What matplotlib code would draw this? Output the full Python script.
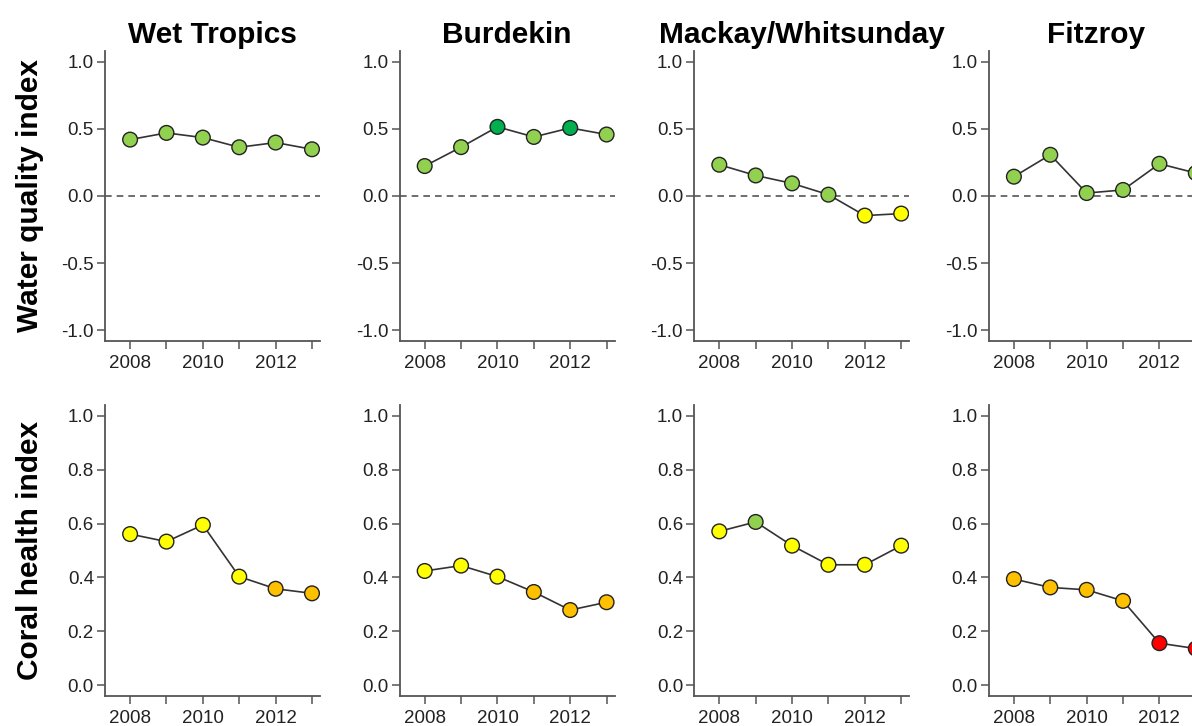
import numpy as np
import matplotlib
matplotlib.use("Agg")
import matplotlib.pyplot as plt

plt.rcParams['font.family'] = ['Liberation Sans', 'DejaVu Sans']

years = [2008, 2009, 2010, 2011, 2012, 2013]
regions = ["Wet Tropics", "Burdekin", "Mackay/Whitsunday", "Fitzroy"]

# water quality index per region
wq_wet = [0.42, 0.47, 0.435, 0.363, 0.398, 0.348]
wq_burdekin = [0.223, 0.364, 0.515, 0.44, 0.507, 0.458]
wq_mackay = [0.233, 0.153, 0.094, 0.01, -0.146, -0.131]
wq_fitzroy = [0.144, 0.307, 0.022, 0.045, 0.24, 0.171]

# coral health index per region
ch_wet = [0.561, 0.533, 0.595, 0.403, 0.358, 0.341]
ch_burdekin = [0.424, 0.444, 0.403, 0.346, 0.279, 0.308]
ch_mackay = [0.571, 0.606, 0.518, 0.447, 0.447, 0.518]
ch_fitzroy = [0.394, 0.363, 0.354, 0.313, 0.156, 0.136]

# report card grade colours
G = "#00B050"   # good
M = "#92D050"   # moderate-good
Y = "#FFFF00"   # moderate
O = "#FFC000"   # poor
R = "#FF0000"   # very poor

wq_cols = [
    [M, M, M, M, M, M],
    [M, M, G, M, G, M],
    [M, M, M, M, Y, Y],
    [M, M, M, M, M, M],
]
ch_cols = [
    [Y, Y, Y, Y, O, O],
    [Y, Y, Y, O, O, O],
    [Y, M, Y, Y, Y, Y],
    [O, O, O, O, R, R],
]

wq = [wq_wet, wq_burdekin, wq_mackay, wq_fitzroy]
ch = [ch_wet, ch_burdekin, ch_mackay, ch_fitzroy]

W, H = 1192, 726
fig = plt.figure(figsize=(W / 100, H / 100), dpi=100)

spine_col = "#555555"
tick_col = "#222222"


def style(ax, ylim, yticks, yfmt):
    ax.set_xlim(2007.31, 2013.22)
    ax.set_ylim(*ylim)
    for s in ["top", "right"]:
        ax.spines[s].set_visible(False)
    for s in ["left", "bottom"]:
        ax.spines[s].set_color(spine_col)
        ax.spines[s].set_linewidth(1.3)
    ax.set_xticks(years)
    ax.set_xticklabels([str(y) if y % 2 == 0 else "" for y in years])
    ax.set_yticks(yticks)
    ax.set_yticklabels([yfmt % v for v in yticks])
    ax.tick_params(direction="out", length=6, width=1.1, color=spine_col,
                   labelsize=13.5, labelcolor=tick_col)
    ax.tick_params(axis="y", pad=2)
    ax.tick_params(axis="x", pad=4)
    ax.patch.set_visible(False)


for i in range(4):
    left = (105 + i * 294.6) / W
    width = 215 / W

    ax = fig.add_axes([left, (H - 341) / H, width, 290 / H])
    style(ax, (-1.08, 1.08), [-1.0, -0.5, 0.0, 0.5, 1.0], "%.1f")
    ax.plot([2007.31, 2013.22], [0, 0], ls=(0, (4, 3)), color="#555555", lw=1.2, zorder=1)
    ax.plot(years, wq[i], color="#333333", lw=1.2, zorder=2)
    ax.scatter(years, wq[i], s=112, c=wq_cols[i], edgecolors="#222222",
               linewidths=1.0, zorder=3)
    ax.set_title(regions[i], fontsize=21.5, fontweight="bold", pad=6)

    ax2 = fig.add_axes([left, 30 / H, width, 291 / H])
    style(ax2, (-0.04, 1.04), [0.0, 0.2, 0.4, 0.6, 0.8, 1.0], "%.1f")
    ax2.plot(years, ch[i], color="#333333", lw=1.2, zorder=2)
    ax2.scatter(years, ch[i], s=112, c=ch_cols[i], edgecolors="#222222",
                linewidths=1.0, zorder=3)

fig.text(30 / W, 1 - 196 / H, "Water quality index", rotation=90,
         ha="center", va="center", fontsize=21.5, fontweight="bold")
fig.text(30 / W, 1 - 550 / H, "Coral health index", rotation=90,
         ha="center", va="center", fontsize=21.5, fontweight="bold")

fig.savefig("out.png", dpi=100)
